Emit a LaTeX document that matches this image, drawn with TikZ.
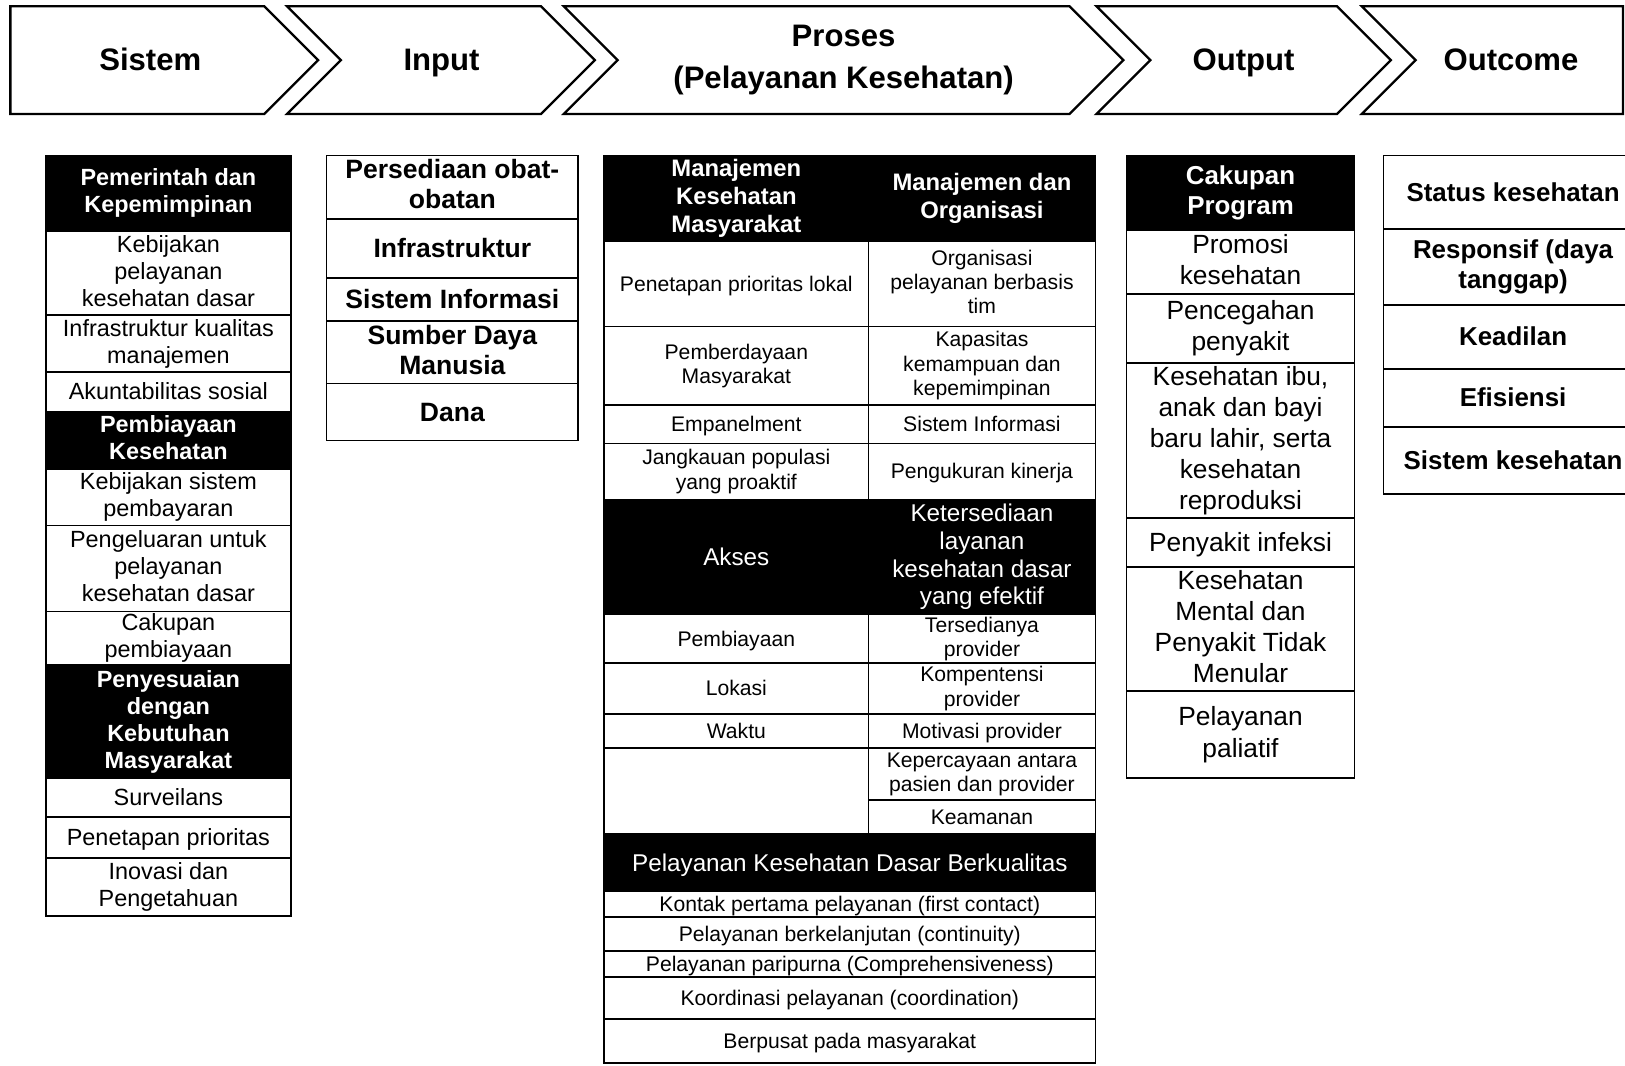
\documentclass[tikz,border=0pt]{standalone}
\usepackage{fontspec}
\setmainfont{Liberation Sans}

% one table cell: name, box style, text style, x1, y1, x2, y2, text
\newcommand{\tcell}[8]{%
  \path[#2] (#4,#5) rectangle (#6,#7);
  \node[#3] (#1) at ({(#4+#6)/2},{(#5+#7)/2}) {#8};}

\begin{document}
\begin{tikzpicture}[x=0.5pt, y=-0.5pt,
  lbox/.style={align=center, inner sep=0pt,
    execute at begin node={\rule{0pt}{0.905em}},
    execute at end node={\rule[-0.212em]{0pt}{0.212em}}},
  chev/.style={draw, line width=1.1pt, line join=miter},
  chevtxt/.style={lbox, font=\bfseries\fontsize{15}{20}\selectfont},
  wc/.style={draw, fill=white, line width=0.9pt},
  bc/.style={draw, fill=black, line width=0.9pt},
  sistxt/.style={lbox, font=\fontsize{11.3}{13}\selectfont},
  sishead/.style={sistxt, text=white, font=\bfseries\fontsize{11.3}{13}\selectfont},
  inptxt/.style={lbox, font=\bfseries\fontsize{12.8}{14.5}\selectfont},
  protxt/.style={lbox, font=\fontsize{10.2}{11.75}\selectfont},
  prohead/.style={protxt, text=white, font=\bfseries\fontsize{11.5}{13.5}\selectfont},
  prowhite/.style={protxt, text=white, font=\fontsize{11.7}{13.4}\selectfont},
  outtxt/.style={lbox, font=\fontsize{12.7}{15}\selectfont},
  outhead/.style={outtxt, text=white, font=\bfseries\fontsize{12.5}{14.5}\selectfont},
  restxt/.style={lbox, font=\bfseries\fontsize{12.5}{14.5}\selectfont}]
\useasboundingbox (0,0) rectangle (1568,1028);

% chevrons
\draw[chev] (10,6) -- (255,6) -- (307,58) -- (255,110) -- (10,110) -- cycle;
\foreach \a/\b in {277/522, 544/1032, 1058/1290}
  \draw[chev] (\a,6) -- (\b,6) -- (\b+52,58) -- (\b,110) -- (\a,110) -- (\a+52,58) -- cycle;
\draw[chev] (1566,6) -- (1314,6) -- (1366,58) -- (1314,110) -- (1566,110) -- cycle;
\node[chevtxt] (sistem) at (145,58) {Sistem};
\node[chevtxt] (input) at (426,58) {Input};
\node[chevtxt] (proses) at (814,58) {Proses\\(Pelayanan Kesehatan)};
\node[chevtxt] (output) at (1200,58) {Output};
\node[chevtxt] (outcome) at (1458,58) {Outcome};

% Sistem
\tcell{s1}{bc}{sishead}{44}{150}{281}{223}{Pemerintah dan\\Kepemimpinan}
\tcell{s2}{wc}{sistxt}{44}{223}{281}{304}{Kebijakan\\pelayanan\\kesehatan dasar}
\tcell{s3}{wc}{sistxt}{44}{304}{281}{359}{Infrastruktur kualitas\\manajemen}
\tcell{s4}{wc}{sistxt}{44}{359}{281}{397}{Akuntabilitas sosial}
\tcell{s5}{bc}{sishead}{44}{397}{281}{453}{Pembiayaan\\Kesehatan}
\tcell{s6}{wc}{sistxt}{44}{453}{281}{507}{Kebijakan sistem\\pembayaran}
\tcell{s7}{wc}{sistxt}{44}{507}{281}{590}{Pengeluaran untuk\\pelayanan\\kesehatan dasar}
\tcell{s8}{wc}{sistxt}{44}{590}{281}{642}{Cakupan\\pembiayaan}
\tcell{s9}{bc}{sishead}{44}{642}{281}{751}{Penyesuaian\\dengan\\Kebutuhan\\Masyarakat}
\tcell{s10}{wc}{sistxt}{44}{751}{281}{788}{Surveilans}
\tcell{s11}{wc}{sistxt}{44}{788}{281}{828}{Penetapan prioritas}
\tcell{s12}{wc}{sistxt}{44}{828}{281}{884}{Inovasi dan\\Pengetahuan}

% Input
\tcell{in1}{wc}{inptxt}{315}{150}{558}{211}{Persediaan obat-\\obatan}
\tcell{in2}{wc}{inptxt}{315}{211}{558}{268}{Infrastruktur}
\tcell{in3}{wc}{inptxt}{315}{268}{558}{310}{Sistem Informasi}
\tcell{in4}{wc}{inptxt}{315}{310}{558}{370}{Sumber Daya\\Manusia}
\tcell{in5}{wc}{inptxt}{315}{370}{558}{425}{Dana}

% Proses
\tcell{pa0}{bc}{prohead}{583}{150}{838}{233}{Manajemen\\Kesehatan\\Masyarakat}
\tcell{pb0}{bc}{prohead}{838}{150}{1057}{233}{Manajemen dan\\Organisasi}
\tcell{pa1}{wc}{protxt}{583}{233}{838}{315}{Penetapan prioritas lokal}
\tcell{pb1}{wc}{protxt}{838}{233}{1057}{315}{Organisasi\\pelayanan berbasis\\tim}
\tcell{pa2}{wc}{protxt}{583}{315}{838}{391}{Pemberdayaan\\Masyarakat}
\tcell{pb2}{wc}{protxt}{838}{315}{1057}{391}{Kapasitas\\kemampuan dan\\kepemimpinan}
\tcell{pa3}{wc}{protxt}{583}{391}{838}{428}{Empanelment}
\tcell{pb3}{wc}{protxt}{838}{391}{1057}{428}{Sistem Informasi}
\tcell{pa4}{wc}{protxt}{583}{428}{838}{482}{Jangkauan populasi\\yang proaktif}
\tcell{pb4}{wc}{protxt}{838}{428}{1057}{482}{Pengukuran kinerja}
\tcell{pa5}{bc}{prowhite}{583}{482}{838}{593}{Akses}
\tcell{pb5}{bc}{prowhite}{838}{482}{1057}{593}{Ketersediaan\\layanan\\kesehatan dasar\\yang efektif}
\tcell{pa6}{wc}{protxt}{583}{593}{838}{640}{Pembiayaan}
\tcell{pb6}{wc}{protxt}{838}{593}{1057}{640}{Tersedianya\\provider}
\tcell{pa7}{wc}{protxt}{583}{640}{838}{689}{Lokasi}
\tcell{pb7}{wc}{protxt}{838}{640}{1057}{689}{Kompentensi\\provider}
\tcell{pa8}{wc}{protxt}{583}{689}{838}{722}{Waktu}
\tcell{pb8}{wc}{protxt}{838}{689}{1057}{722}{Motivasi provider}
\tcell{pa9}{wc}{protxt}{583}{722}{838}{805}{}
\tcell{pb9}{wc}{protxt}{838}{722}{1057}{772}{Kepercayaan antara\\pasien dan provider}
\tcell{pb10}{wc}{protxt}{838}{772}{1057}{805}{Keamanan}
\tcell{pk0}{bc}{prowhite}{583}{805}{1057}{860}{Pelayanan Kesehatan Dasar Berkualitas}
\tcell{pk1}{wc}{protxt}{583}{860}{1057}{885}{Kontak pertama pelayanan (first contact)}
\tcell{pk2}{wc}{protxt}{583}{885}{1057}{918}{Pelayanan berkelanjutan (continuity)}
\tcell{pk3}{wc}{protxt}{583}{918}{1057}{943}{Pelayanan paripurna (Comprehensiveness)}
\tcell{pk4}{wc}{protxt}{583}{943}{1057}{983}{Koordinasi pelayanan (coordination)}
\tcell{pk5}{wc}{protxt}{583}{983}{1057}{1026}{Berpusat pada masyarakat}

% Output
\tcell{o1}{bc}{outhead}{1087}{150}{1307}{222}{Cakupan\\Program}
\tcell{o2}{wc}{outtxt}{1087}{222}{1307}{284}{Promosi\\kesehatan}
\tcell{o3}{wc}{outtxt}{1087}{284}{1307}{350}{Pencegahan\\penyakit}
\tcell{o4}{wc}{outtxt}{1087}{350}{1307}{500}{Kesehatan ibu,\\anak dan bayi\\baru lahir, serta\\kesehatan\\reproduksi}
\tcell{o5}{wc}{outtxt}{1087}{500}{1307}{547}{Penyakit infeksi}
\tcell{o6}{wc}{outtxt}{1087}{547}{1307}{667}{Kesehatan\\Mental dan\\Penyakit Tidak\\Menular}
\tcell{o7}{wc}{outtxt}{1087}{667}{1307}{751}{Pelayanan\\paliatif}

% Outcome
\tcell{u1}{wc}{restxt}{1335}{150}{1585}{221}{Status kesehatan}
\tcell{u2}{wc}{restxt}{1335}{221}{1585}{294}{Responsif (daya\\tanggap)}
\tcell{u3}{wc}{restxt}{1335}{294}{1585}{356}{Keadilan}
\tcell{u4}{wc}{restxt}{1335}{356}{1585}{412}{Efisiensi}
\tcell{u5}{wc}{restxt}{1335}{412}{1585}{477}{Sistem kesehatan}
\end{tikzpicture}
\end{document}
